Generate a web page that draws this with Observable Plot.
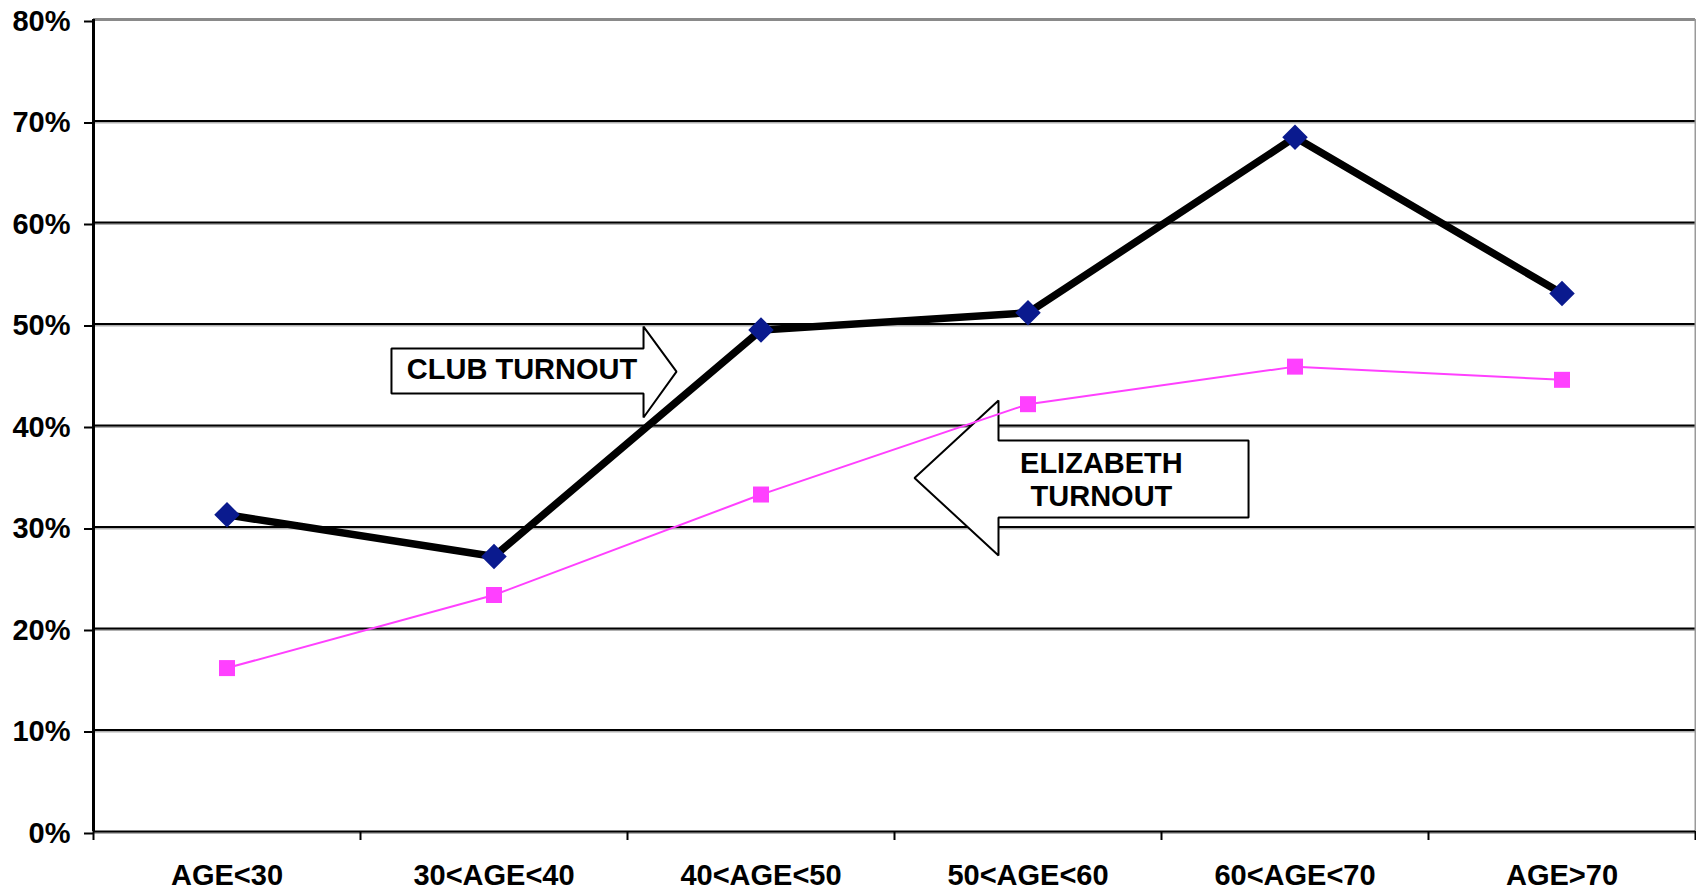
<!DOCTYPE html>
<html>
<head>
<meta charset="utf-8">
<script src="https://cdn.jsdelivr.net/npm/d3@7"></script>
<script src="https://cdn.jsdelivr.net/npm/@observablehq/plot@0.6"></script>
<style>
  html, body { margin: 0; padding: 0; background: white; }
  svg { display: block; }
</style>
</head>
<body>
<div id="chart"></div>
<script>
// ---- data ----
const categories = ["AGE<30", "30<AGE<40", "40<AGE<50", "50<AGE<60", "60<AGE<70", "AGE>70"];
const clubTurnout = [0.312, 0.271, 0.494, 0.511, 0.684, 0.530];
const elizabethTurnout = [0.161, 0.233, 0.332, 0.421, 0.458, 0.445];
const yTicks = [0, 0.1, 0.2, 0.3, 0.4, 0.5, 0.6, 0.7, 0.8];
const gridTicks = [0.1, 0.2, 0.3, 0.4, 0.5, 0.6, 0.7];

// annotation arrows, in data units (category index, share)
const clubArrow = [[0.616,0.4759],[1.560,0.4759],[1.560,0.4975],[1.6835,0.4530],[1.560,0.4079],[1.560,0.4315],[0.616,0.4315]];
const elizabethArrow = [[3.826,0.3852],[2.8895,0.3852],[2.8895,0.4246],[2.575,0.3483],[2.8895,0.2719],[2.8895,0.3094],[3.826,0.3094]];
const clubLabel = [{x: 1.105, y: 0.4545, text: "CLUB TURNOUT"}];
const elizabethLabel = [{x: 3.275, y: 0.3473, text: "ELIZABETH\nTURNOUT"}];

const rows = categories.map((c, i) => ({i, category: c, club: clubTurnout[i], eliz: elizabethTurnout[i]}));
const boundaries = d3.range(categories.length + 1).map(i => i - 0.5);

const chart = Plot.plot({
  width: 1696,
  height: 890,
  marginLeft: 93,
  marginRight: 1,
  marginTop: 19,
  marginBottom: 59,
  style: "font-family: 'Liberation Sans', Arial, sans-serif; font-size: 29px; font-weight: bold; background: white; color: black;",
  x: {domain: [-0.5, categories.length - 0.5]},
  y: {domain: [0, 0.8]},
  marks: [
    // gridlines with grey shadow
    Plot.ruleY(gridTicks, {stroke: "#b0b0b0", strokeWidth: 2, dy: 1.5}),
    Plot.ruleY(gridTicks, {stroke: "black", strokeWidth: 2}),
    Plot.ruleY([0.8], {stroke: "#8a8a8a", strokeWidth: 3}),
    Plot.ruleX([categories.length - 0.5], {stroke: "#9a9a9a", strokeWidth: 2}),
    Plot.ruleY([0], {stroke: "#b0b0b0", strokeWidth: 2, dy: 1.5}),
    Plot.ruleY([0], {stroke: "black", strokeWidth: 2}),
    Plot.ruleX([-0.5], {stroke: "black", strokeWidth: 3}),
    // axes
    Plot.axisY(yTicks, {tickSize: 9, tickPadding: 14, strokeWidth: 2, tickFormat: d3.format(".0%"), fontSize: 29, dy: 2, label: null}),
    Plot.axisX(boundaries, {tickSize: 9, strokeWidth: 2, tickFormat: () => "", label: null}),
    Plot.axisX(d3.range(categories.length), {tickSize: 0, tickPadding: 33, tickFormat: i => categories[i], fontSize: 29, label: null}),
    // annotation arrows
    Plot.line(clubArrow, {x: d => d[0], y: d => d[1], curve: "linear-closed", fill: "white", stroke: "black", strokeWidth: 2, strokeLinejoin: "miter"}),
    Plot.line(elizabethArrow, {x: d => d[0], y: d => d[1], curve: "linear-closed", fill: "white", stroke: "black", strokeWidth: 2, strokeLinejoin: "miter"}),
    Plot.text(clubLabel, {x: "x", y: "y", text: "text", fontSize: 29, fontWeight: "bold", fill: "black"}),
    Plot.text(elizabethLabel, {x: "x", y: "y", text: "text", fontSize: 29, fontWeight: "bold", fill: "black", lineHeight: 1.14}),
    // series
    Plot.line(rows, {x: "i", y: "eliz", stroke: "#ff40ff", strokeWidth: 2}),
    Plot.dot(rows, {x: "i", y: "eliz", symbol: "square", r: 9.03, fill: "#ff40ff", stroke: "none"}),
    Plot.line(rows, {x: "i", y: "club", stroke: "black", strokeWidth: 7.5, strokeLinejoin: "round"}),
    Plot.dot(rows, {x: "i", y: "club", symbol: "diamond2", r: 11.5, fill: "#0a1a8e", stroke: "none"})
  ]
});
document.getElementById("chart").appendChild(chart);
</script>
</body>
</html>
